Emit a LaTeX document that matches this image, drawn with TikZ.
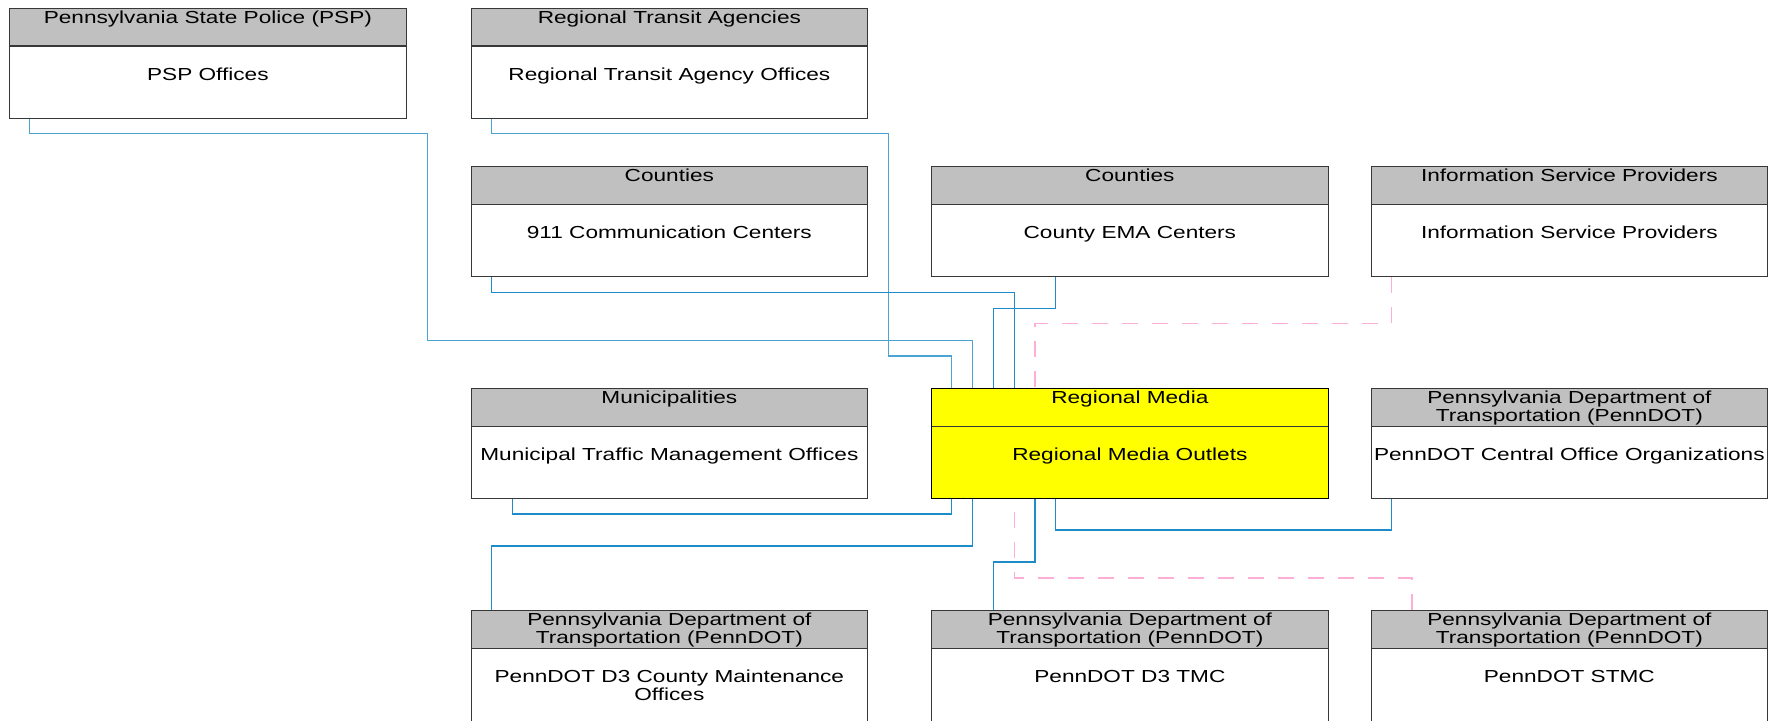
\documentclass[tikz,border=0pt]{standalone}
\usepackage{graphicx}
\usepackage{fontspec}
\setmainfont{Liberation Sans}
\newcommand{\sx}[1]{\scalebox{1.3}[1]{#1}}
\newcommand{\two}[2]{\sx{\begin{tabular}[t]{@{}c@{}}#1\\#2\end{tabular}}}
\definecolor{hdrgrey}{RGB}{192,192,192}
\definecolor{pureyellow}{RGB}{255,255,0}
\definecolor{lblue}{RGB}{75,163,212}
\definecolor{dblue}{RGB}{30,140,200}
\definecolor{pinkline}{RGB}{255,175,215}
\definecolor{edge}{RGB}{55,55,55}
\tikzset{
  box/.style={draw=edge, line width=1.2pt, fill=white, rectangle, anchor=north west,
    minimum width=396.5pt, minimum height=110.2pt, inner sep=0pt,
    path picture={\fill[#1] (path picture bounding box.north west) rectangle ([yshift=-37.8pt]path picture bounding box.north east);
      \draw[edge, line width=1.2pt] ([yshift=-37.8pt]path picture bounding box.north west) -- ([yshift=-37.8pt]path picture bounding box.north east);}},
  box/.default=hdrgrey,
  lbl/.style={font=\fontsize{17.4}{18.3}\selectfont, inner sep=0pt, anchor=base, text=black},
  lb/.style={draw=lblue, line width=1.1pt},
  db/.style={draw=dblue, line width=1.1pt},
  pk/.style={draw=pinkline, line width=1.3pt, dash pattern=on 16pt off 14pt},
}
\begin{document}
\begin{tikzpicture}[x=1pt,y=-1pt]
\useasboundingbox (0,0) rectangle (1777,720);
\fill[white] (0,0) rectangle (1777,720);
% row 0
\node[box] (psp) at (9,7.5) {};
\node[box] (rta) at (470.5,7.5) {};
% row 1
\node[box] (c911) at (470.5,165.7) {};
\node[box] (ema) at (931,165.7) {};
\node[box] (isp) at (1370.5,165.7) {};
% row 2
\node[box] (mun) at (470.5,387.7) {};
\node[box=pureyellow, fill=pureyellow, draw=black] (rm) at (931,387.7) {};
\node[box] (central) at (1370.5,387.7) {};
% row 3
\node[box, minimum height=112pt] (maint) at (470.5,609.8) {};
\node[box, minimum height=112pt] (tmc) at (931,609.8) {};
\node[box, minimum height=112pt] (stmc) at (1370.5,609.8) {};
% texts
\node[lbl] (psp-h) at ([yshift=-15.8pt]psp.north) {\sx{Pennsylvania State Police (PSP)}};
\node[lbl] (psp-b) at ([yshift=-72.5pt]psp.north) {\sx{PSP Offices}};
\node[lbl] (rta-h) at ([yshift=-15.8pt]rta.north) {\sx{Regional Transit Agencies}};
\node[lbl] (rta-b) at ([yshift=-72.5pt]rta.north) {\sx{Regional Transit Agency Offices}};
\node[lbl] (c911-h) at ([yshift=-15.8pt]c911.north) {\sx{Counties}};
\node[lbl] (c911-b) at ([yshift=-72.5pt]c911.north) {\sx{911 Communication Centers}};
\node[lbl] (ema-h) at ([yshift=-15.8pt]ema.north) {\sx{Counties}};
\node[lbl] (ema-b) at ([yshift=-72.5pt]ema.north) {\sx{County EMA Centers}};
\node[lbl] (isp-h) at ([yshift=-15.8pt]isp.north) {\sx{Information Service Providers}};
\node[lbl] (isp-b) at ([yshift=-72.5pt]isp.north) {\sx{Information Service Providers}};
\node[lbl] (mun-h) at ([yshift=-15.8pt]mun.north) {\sx{Municipalities}};
\node[lbl] (mun-b) at ([yshift=-72.5pt]mun.north) {\sx{Municipal Traffic Management Offices}};
\node[lbl] (rm-h) at ([yshift=-15.8pt]rm.north) {\sx{Regional Media}};
\node[lbl] (rm-b) at ([yshift=-72.5pt]rm.north) {\sx{Regional Media Outlets}};
\node[lbl] (central-h) at ([yshift=-15.8pt]central.north) {\two{Pennsylvania Department of}{Transportation (PennDOT)}};
\node[lbl] (central-b) at ([yshift=-72.5pt]central.north) {\sx{PennDOT Central Office Organizations}};
\node[lbl] (maint-h) at ([yshift=-15.8pt]maint.north) {\two{Pennsylvania Department of}{Transportation (PennDOT)}};
\node[lbl] (maint-b) at ([yshift=-72.5pt]maint.north) {\two{PennDOT D3 County Maintenance}{Offices}};
\node[lbl] (tmc-h) at ([yshift=-15.8pt]tmc.north) {\two{Pennsylvania Department of}{Transportation (PennDOT)}};
\node[lbl] (tmc-b) at ([yshift=-72.5pt]tmc.north) {\sx{PennDOT D3 TMC}};
\node[lbl] (stmc-h) at ([yshift=-15.8pt]stmc.north) {\two{Pennsylvania Department of}{Transportation (PennDOT)}};
\node[lbl] (stmc-b) at ([yshift=-72.5pt]stmc.north) {\sx{PennDOT STMC}};
% connectors above Regional Media
\draw[lb] ([xshift=20.8pt]psp.south west) |- (427.5,133.7) -- (427.5,340.3) -| ([xshift=41.6pt]rm.north west);
\draw[lb] ([xshift=20.8pt]rta.south west) |- (888.6,133.7) -- (888.6,356) -| ([xshift=20.8pt]rm.north west);
\draw[db] ([xshift=20.8pt]c911.south west) |- (700,292.7) -| ([xshift=83.2pt]rm.north west);
\draw[db] ([xshift=124.8pt]ema.south west) |- (1000,308.3) -| ([xshift=62.4pt]rm.north west);
\draw[pk] ([xshift=20.8pt]isp.south west) |- (1200,323.7) -| ([xshift=104pt]rm.north west);
% connectors below Regional Media
\draw[db] ([xshift=41.6pt]mun.south west) |- (700,514) -| ([xshift=20.8pt]rm.south west);
\draw[db] ([xshift=20.8pt]maint.north west) |- (700,546) -| ([xshift=41.6pt]rm.south west);
\draw[db] ([xshift=62.4pt]tmc.north west) |- (1010,562) -| ([xshift=104pt]rm.south west);
\draw[pk] ([xshift=41.6pt]stmc.north west) |- (1200,578) -| ([xshift=83.2pt]rm.south west);
\draw[db] ([xshift=20.8pt]central.south west) |- (1200,530) -| ([xshift=124.8pt]rm.south west);
\end{tikzpicture}
\end{document}
